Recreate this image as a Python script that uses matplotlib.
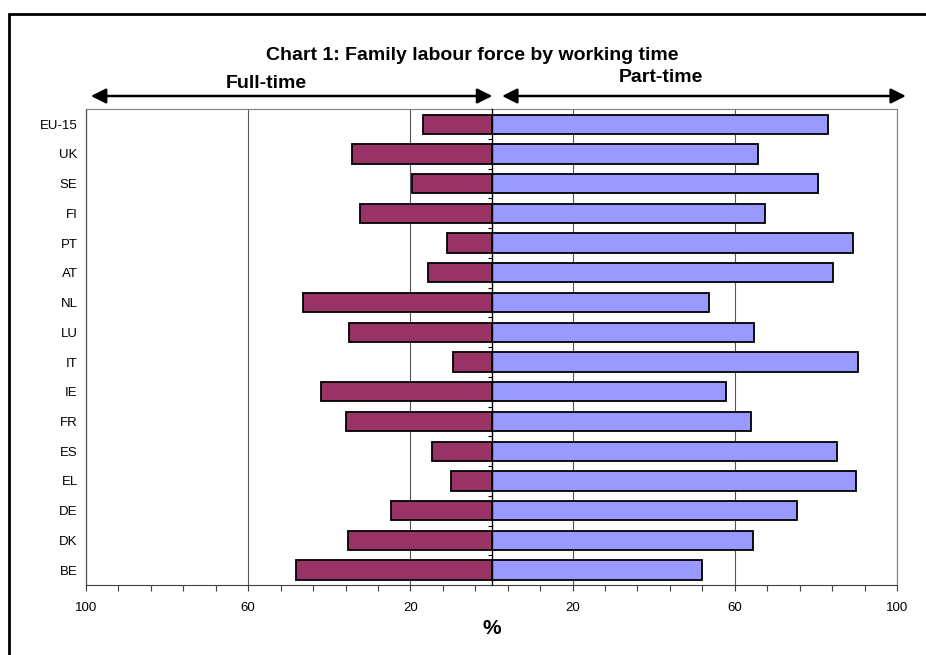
import numpy as np
import matplotlib.pyplot as plt
from matplotlib.patches import Rectangle
from matplotlib.ticker import FixedLocator
import matplotlib.transforms as mtransforms

plt.rcParams['font.family'] = ['Liberation Sans', 'DejaVu Sans']

# data (top to bottom as in the chart)
countries = ['EU-15', 'UK', 'SE', 'FI', 'PT', 'AT', 'NL', 'LU',
             'IT', 'IE', 'FR', 'ES', 'EL', 'DE', 'DK', 'BE']
full_time = [16.9, 34.3, 19.5, 32.5, 11.0, 15.7, 46.4, 35.1,
             9.6, 42.0, 35.9, 14.7, 10.0, 24.7, 35.5, 48.1]
part_time = [83.0, 65.7, 80.4, 67.4, 89.1, 84.3, 53.6, 64.8,
             90.3, 57.9, 64.1, 85.2, 89.9, 75.3, 64.4, 51.9]
xtick_vals = [-100, -60, -20, 20, 60, 100]
xtick_labels = ['100', '60', '20', '20', '60', '100']

fig = plt.figure(figsize=(9.26, 6.55), dpi=100)
ax = fig.add_axes([86 / 926, 1 - 585 / 655, (897 - 86) / 926, (585 - 109.3) / 655])

y = np.arange(len(countries))[::-1]
ax.barh(y, -np.array(full_time), height=0.65, color='#993366',
        edgecolor='black', linewidth=1.3, zorder=3)
ax.barh(y, part_time, height=0.65, color='#9999FF',
        edgecolor='black', linewidth=1.3, zorder=3)

ax.set_xlim(-100, 100)
ax.set_ylim(-0.5, len(countries) - 0.5)

# x axis
ax.xaxis.set_major_locator(FixedLocator(xtick_vals))
ax.set_xticklabels(xtick_labels, fontsize=9.5)
ax.xaxis.set_minor_locator(FixedLocator(np.arange(-100, 101, 8)))
ax.tick_params(axis='x', which='both', direction='out', length=4, width=0.8,
               color='#404040', pad=8)
ax.grid(axis='x', which='major', color='#555555', linewidth=0.8, zorder=0)
ax.set_xlabel('%', fontsize=15, fontweight='bold', labelpad=4)

# y axis at zero with ticks between categories
ax.spines['left'].set_position(('data', 0))
ax.spines['left'].set_color('black')
ax.spines['left'].set_linewidth(1.0)
ax.spines['left'].set_zorder(4)
ax.yaxis.set_major_locator(FixedLocator(np.arange(-0.5, len(countries), 1.0)))
ax.tick_params(axis='y', which='major', direction='out', length=3, width=0.8,
               labelleft=False)
for s in ['top', 'right']:
    ax.spines[s].set_color('#808080')
ax.spines['bottom'].set_color('#404040')

# category labels at left edge
sec = ax.secondary_yaxis('left')
sec.set_yticks(y)
sec.set_yticklabels(countries, fontsize=9.5)
sec.tick_params(length=0, pad=6)
sec.spines['left'].set_color('#808080')
sec.spines['left'].set_linewidth(1.0)

# title and header arrows
fig.text(472 / 926, 1 - 56 / 655, 'Chart 1: Family labour force by working time',
         ha='center', va='center', fontsize=14, fontweight='bold')
trans = mtransforms.blended_transform_factory(ax.transData, fig.transFigure)
ax.text(-55.6, 1 - 84 / 655, 'Full-time', transform=trans, ha='center',
        va='center', fontsize=14, fontweight='bold')
ax.text(41.9, 1 - 78 / 655, 'Part-time', transform=trans, ha='center',
        va='center', fontsize=14, fontweight='bold')
ay = 1 - 96 / 655
for x0, x1 in [(-98.8, 0.2), (2.6, 102.2)]:
    ax.annotate('', xy=(x1, ay), xytext=(x0, ay), xycoords=trans, textcoords=trans,
                arrowprops=dict(arrowstyle='<|-|>,head_length=0.9,head_width=0.45',
                                color='black', lw=1.8, shrinkA=0, shrinkB=0),
                annotation_clip=False)

# outer frame
fig.patches.append(Rectangle((8.5 / 926, -0.5), 2.0, 1.5 - 14 / 655,
                             transform=fig.transFigure, fill=False,
                             edgecolor='black', linewidth=2))

fig.savefig('out.png', dpi=100)
